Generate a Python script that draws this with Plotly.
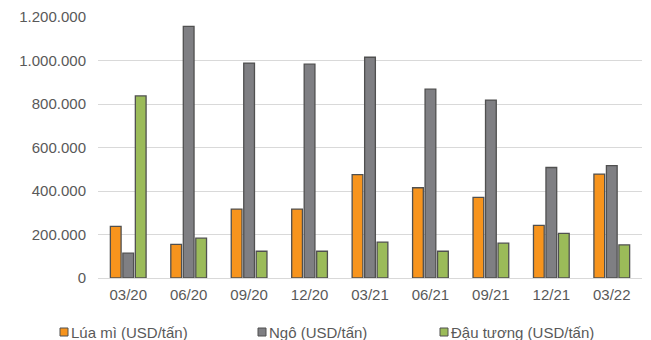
import plotly.graph_objects as go

quarters = ["03/20", "06/20", "09/20", "12/20", "03/21", "06/21", "09/21", "12/21", "03/22"]
wheat = [237000, 155000, 317000, 317000, 475000, 415000, 371000, 242000, 478000]
corn = [114000, 1157000, 988000, 983000, 1015000, 868000, 818000, 508000, 517000]
soybean = [837000, 183000, 123000, 123000, 165000, 123000, 160000, 205000, 152000]

series_names = ["Lúa mì (USD/tấn)", "Ngô (USD/tấn)", "Đậu tương (USD/tấn)"]
series_values = [wheat, corn, soybean]
series_colors = ["#F7941D", "#7F7F83", "#9BBB59"]
outline = "#505050"

W, H = 651, 340
M = dict(l=98, r=9, t=17, b=62)

fig = go.Figure()
for name, vals, color in zip(series_names, series_values, series_colors):
    fig.add_trace(go.Bar(
        x=quarters, y=vals, name=name, showlegend=False,
        marker=dict(color=color, line=dict(color=outline, width=1.3)),
    ))

font = dict(family="Liberation Sans, Arial, sans-serif", size=15, color="#595959")

# Legend row under the plot: small outlined square followed by the series name
legend_x_px = [60, 258, 440]
legend_y_px = 332
plot_w = W - M["l"] - M["r"]
plot_h = H - M["t"] - M["b"]
sq = 8
for name, color, xp in zip(series_names, series_colors, legend_x_px):
    x0 = (xp - M["l"]) / plot_w
    x1 = (xp + sq - M["l"]) / plot_w
    yc = (H - M["b"] - legend_y_px) / plot_h
    half = (sq / 2) / plot_h
    fig.add_shape(type="rect", xref="paper", yref="paper",
                  x0=x0, x1=x1, y0=yc - half, y1=yc + half,
                  fillcolor=color, line=dict(color=outline, width=1))
    fig.add_annotation(xref="paper", yref="paper", x=x1 + 1 / plot_w, y=yc,
                       xanchor="left", yanchor="middle", text=name,
                       showarrow=False, font=font)

fig.update_layout(
    width=W, height=H,
    margin=M,
    paper_bgcolor="white", plot_bgcolor="white",
    barmode="group", bargap=0.38, bargroupgap=0.14,
    separators=",.",
    font=font,
    showlegend=False,
    xaxis=dict(showgrid=False, showline=False, ticks="", tickfont=font,
               ticklabelstandoff=6),
    yaxis=dict(
        range=[0, 1200000], dtick=200000, tickformat=",d",
        showgrid=True, gridcolor="#D9D9D9", gridwidth=1.3,
        zeroline=True, zerolinecolor="#D9D9D9", zerolinewidth=1.3,
        showline=False, ticks="", tickfont=font, ticklabelstandoff=11,
    ),
)

fig.write_html("out.html")
